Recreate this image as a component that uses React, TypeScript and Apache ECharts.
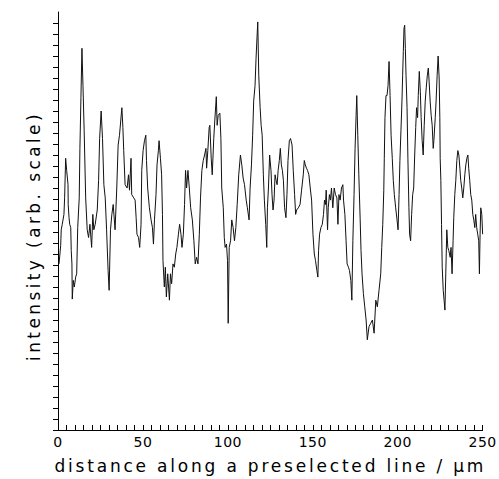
import React, { useEffect, useRef } from "react";
import * as echarts from "echarts";

// distance along the line (µm) and intensity (arb. units) in segments
const distanceA = [0.6,1.6,1.9,2.5,3.5,3.9,4.5,5.1,5.9,6.0,6.5,6.9,7.5,7.8,8.2,8.4,9.0,9.6,10.4,11.0,11.6,12.5,12.9,13.5,14.1,14.7,15.4,16.3,17.2,18.0,18.8,19.8,20.5,21.1,21.9,23.1,23.9,24.5,25.4,26.2,27.0,27.8,28.6,29.5,30.1,30.9,31.7,32.5,33.6,34.6,35.4];
const intensityA = [15.1,16.8,18.2,18.7,19.6,21.1,24.7,23.6,22.3,20.5,19.3,18.7,18.4,16.3,15.1,11.9,13.6,13.0,13.9,14.2,18.4,21.1,25.6,30.2,34.7,31.3,27.2,21.1,18.2,17.5,18.7,16.6,19.6,18.2,18.7,20.0,22.7,26.5,29.0,26.5,22.3,21.1,18.2,14.5,12.7,18.2,19.6,20.5,18.2,22.0,25.9];

const distanceB = [36.2,37.6,38.2,38.7,39.5,40.7,41.5,42.1,43.0,43.4,44.6,45.4,46.0,46.5,47.4,48.1,48.9,49.3,50.1,50.9,51.7,52.1,52.8,53.8,54.8,55.6,56.2,56.8,57.7,58.3,59.1,59.5,60.3,61.0,61.5,61.8,62.6,63.2,63.8,64.6,65.6,66.2,66.9,67.7,68.5,69.3,70.0,70.9,71.6,72.4,73.0];
const intensityB = [26.8,29.3,27.5,25.4,22.3,22.0,23.2,21.8,24.7,21.4,21.1,20.9,19.3,17.8,17.5,16.6,18.7,23.6,25.4,26.3,26.8,24.5,22.0,20.2,19.1,18.4,16.9,19.1,21.4,24.1,25.4,26.3,24.7,23.2,19.6,15.4,13.0,14.8,12.1,14.2,11.8,14.2,13.3,15.1,14.8,16.0,16.6,17.8,18.7,17.8,16.6];

const distanceC = [73.8,74.5,75.1,75.7,76.5,77.3,78.1,79.1,80.0,80.8,81.6,82.4,83.2,83.9,84.7,85.5,86.3,87.1,87.5,88.2,89.0,89.4,90.2,90.8,91.7,92.3,93.2,93.7,94.3,95.3,95.9,96.4,97.3,97.9,98.4,99.2,99.8,100.2,100.8,101.6,102.3,103.1,103.9,104.7,105.5,106.4,107.4,108.2,109.0];
const intensityC = [17.8,20.5,23.6,22.0,23.6,22.0,20.2,19.1,17.2,15.1,15.7,15.1,17.8,21.1,23.6,24.5,25.0,25.6,23.8,25.4,27.5,27.7,24.7,23.2,26.5,28.1,30.3,27.7,28.6,28.8,26.5,22.0,20.2,17.5,16.6,16.9,15.4,9.7,16.6,17.2,19.1,18.4,17.2,18.4,20.5,23.2,25.0,24.1,22.9];

const distanceD = [109.8,110.8,111.5,112.5,113.1,113.9,114.6,115.2,116.0,116.6,117.2,117.6,118.2,119.0,119.6,120.2,120.9,121.5,122.3,122.9,123.3,123.9,124.6,125.4,126.0,126.6,127.2,127.8,128.4,129.0,129.6,130.3,130.9,131.5,132.1,132.7,133.4,134.2,134.8,135.4,136.2,136.9,137.8,138.5,139.3,139.9,140.5,141.5,142.5,143.4,144.4,145.0,145.6,146.3];
const intensityD = [22.3,20.9,20.2,19.1,22.0,24.1,26.8,29.9,31.3,33.8,35.8,37.1,32.2,29.3,27.7,26.8,23.2,20.9,18.7,16.6,20.2,22.0,25.0,23.6,21.4,20.0,20.9,23.2,22.7,22.3,23.6,24.5,25.6,24.1,23.6,22.7,20.2,19.3,21.4,24.5,26.3,26.5,25.9,23.6,21.4,19.6,20.0,20.2,20.5,21.8,23.2,24.5,24.1,23.8];

const distanceE = [146.9,147.7,148.5,149.3,150.1,150.9,151.6,152.4,153.0,153.4,154.0,154.8,155.6,156.3,156.9,157.5,157.9,158.7,159.1,159.8,160.4,161.0,161.8,162.6,163.4,164.2,164.8,165.4,166.1,166.9,167.7,168.1,168.9,169.6,170.2,171.0,171.6,172.4,173.0,173.6,174.3,174.9,175.5,175.9,176.5,177.1,177.9,178.4,179.0,179.8,180.6,181.4,182.1];
const intensityE = [23.6,23.2,22.0,20.9,17.8,16.0,15.4,14.5,13.9,16.3,17.8,18.4,18.7,19.6,20.9,20.5,21.8,18.2,20.2,21.4,20.9,22.0,20.2,22.0,21.4,21.1,18.7,21.4,20.9,22.0,22.3,20.9,19.6,17.2,15.1,14.8,14.5,13.6,11.8,17.2,21.4,25.6,28.6,30.4,26.8,23.2,19.1,16.3,14.2,12.4,11.2,10.0,8.2];

const distanceF = [183.1,184.1,185.1,186.1,187.1,188.0,189.0,190.0,190.6,191.2,191.8,192.1,192.5,193.1,193.7,194.3,194.9,195.5,196.1,196.8,197.4,198.0,198.8,199.6,200.2,200.8,201.3,201.9,202.5,202.9,203.3,203.7,204.1,204.5,204.9,205.5,206.0,206.6,207.0,207.6,208.2,208.8,209.4,210.0,210.6,211.1,211.7,212.1,212.7,213.3,213.8,214.4,215.0,215.6,216.2,216.8,217.4,218.0,218.5,219.1,219.7,220.3,220.9];
const intensityF = [9.4,9.7,10.0,8.8,11.8,11.2,12.7,14.2,16.6,18.7,21.8,24.7,28.4,30.4,30.4,31.3,33.5,30.4,26.8,24.7,22.7,21.4,20.2,19.1,18.2,21.4,24.5,27.2,29.9,32.2,34.4,36.5,36.8,34.7,32.2,29.3,24.7,20.2,17.8,17.2,19.6,21.4,22.0,25.0,27.5,29.3,28.4,30.4,32.6,30.8,28.4,26.3,25.0,27.7,29.9,31.1,32.2,32.9,31.7,29.9,28.6,27.7,25.6];

const distanceG = [221.3,222.1,222.6,223.2,223.8,224.4,224.8,225.0,225.4,225.8,226.2,226.8,227.3,227.8,228.3,228.9,229.5,230.1,230.9,231.4,232.0,232.6,233.0,233.6,234.2,234.8,235.4,236.0,236.6,237.1,237.7,238.3,238.9,239.5,240.1,240.7,241.3,241.8,242.4,243.0,243.6,244.2,244.8,245.4,245.9,246.5,247.1,247.7,248.1,248.5,248.9,249.5,250.0];
const intensityG = [26.3,28.4,29.9,32.2,34.0,32.0,28.4,24.7,22.7,18.7,14.8,12.7,11.8,10.9,14.2,18.2,16.6,16.3,15.7,16.6,14.2,17.2,19.3,21.4,22.7,24.5,25.4,25.0,23.8,22.7,22.0,21.1,22.0,23.2,24.1,24.7,25.0,23.8,22.7,21.4,20.9,19.6,19.1,18.4,19.6,18.4,17.8,17.2,14.2,17.8,20.2,19.6,17.8];

const xTickLabels = [0, 50, 100, 150, 200, 250];
const xTitle = "distance along a preselected line / \u03bcm";
const yTitle = "intensity (arb. scale)";

const distance = [...distanceA, ...distanceB, ...distanceC, ...distanceD, ...distanceE, ...distanceF, ...distanceG];
const intensity = [...intensityA, ...intensityB, ...intensityC, ...intensityD, ...intensityE, ...intensityF, ...intensityG];

const FONT = "DejaVu Sans";

export default function App() {
  const ref = useRef<HTMLDivElement>(null);
  useEffect(() => {
    if (!ref.current) return;
    const chart = echarts.init(ref.current, null, { renderer: "svg" });
    const n = Math.min(distance.length, intensity.length);
    const data: number[][] = [];
    for (let i = 0; i < n; i++) data.push([distance[i], intensity[i]]);
    const yTicks: number[] = [];
    for (let i = 0; i <= 37; i++) yTicks.push(i);
    chart.setOption({
      animation: false,
      backgroundColor: "#ffffff",
      grid: { left: 58, right: 15, top: 12, bottom: 45.5, containLabel: false },
      graphic: [
        {
          type: "text",
          x: 34,
          y: 236,
          rotation: Math.PI / 2,
          silent: true,
          style: {
            text: yTitle,
            fontFamily: FONT,
            fontSize: 17,
            fill: "#000",
            align: "center",
            verticalAlign: "middle",
            textAlign: "center",
            textVerticalAlign: "middle",
          },
        },
      ],
      xAxis: {
        type: "value",
        min: 0,
        max: 250,
        interval: 5,
        name: xTitle,
        nameLocation: "middle",
        nameGap: 27,
        nameTextStyle: { fontFamily: FONT, fontSize: 17, color: "#000" },
        axisLine: { show: true, lineStyle: { color: "#000", width: 1 } },
        axisTick: { show: true, inside: true, length: 5, lineStyle: { color: "#000", width: 1 } },
        axisLabel: {
          interval: 0,
          margin: 5,
          fontFamily: FONT,
          fontSize: 14,
          color: "#000",
          formatter: (v: number) => (xTickLabels.indexOf(v) >= 0 ? String(v) : ""),
        },
        splitLine: { show: false },
      },
      yAxis: {
        type: "value",
        min: 0,
        max: 38,
        interval: 1,
        axisLine: { show: true, lineStyle: { color: "#000", width: 1 } },
        axisTick: { show: true, inside: false, length: 5, customValues: yTicks, lineStyle: { color: "#000", width: 1 } },
        axisLabel: { show: false },
        splitLine: { show: false },
      },
      series: [
        {
          type: "line",
          data,
          showSymbol: false,
          symbol: "none",
          lineStyle: { color: "#111", width: 1 },
          silent: true,
        },
      ],
    });
    // widen the titles' letter spacing as in the reference
    const texts = ref.current.querySelectorAll("text");
    texts.forEach((t) => {
      const s = t.textContent || "";
      if (s === xTitle) (t as SVGTextElement).style.letterSpacing = "2.8px";
      else if (s === yTitle) (t as SVGTextElement).style.letterSpacing = "3.4px";
      else if (/^\d+$/.test(s)) (t as SVGTextElement).style.letterSpacing = "0.5px";
    });
    return () => chart.dispose();
  }, []);
  return (
    <div
      ref={ref}
      style={{ position: "absolute", left: 0, top: 0, width: 499, height: 479, background: "#fff" }}
    />
  );
}
